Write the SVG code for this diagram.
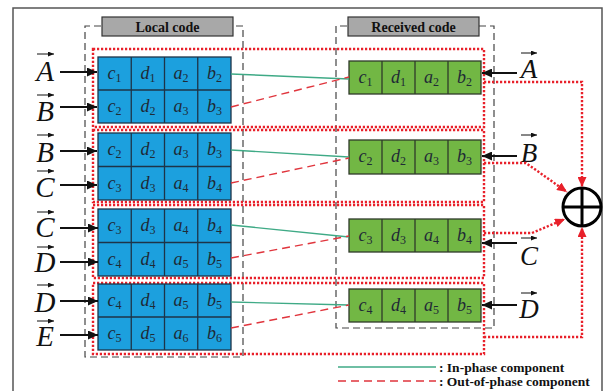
<svg xmlns="http://www.w3.org/2000/svg" width="607" height="391" viewBox="0 0 607 391">
<style>
.frame{fill:none;stroke:#555;stroke-width:1.5}
.dbox{fill:none;stroke:#444;stroke-width:1.2;stroke-dasharray:7 4}
.lab{fill:#a8a8a8;stroke:#333;stroke-width:1.2}
.labt{font-family:'Liberation Serif','Times New Roman',serif;font-weight:bold;font-size:14px;fill:#111;text-anchor:middle}
.rbox{fill:none;stroke:#e8202a;stroke-width:2.4;stroke-dasharray:2.2 1.8}
.blue{fill:#1ca0de;stroke:#1e3448;stroke-width:1.3}
.green{fill:#72b744;stroke:#2f3a2a;stroke-width:1.3}
.ct{font-family:'Liberation Serif','Times New Roman',serif;font-size:18px;fill:#1f2a36;text-anchor:middle}
.v{font-style:italic}
.s{font-size:12px}
.vec{font-family:'Liberation Serif','Times New Roman',serif;font-style:italic;font-size:29px;fill:#111;text-anchor:middle}
.vecr{font-family:'Liberation Serif','Times New Roman',serif;font-style:italic;font-size:27px;fill:#111;text-anchor:middle}
.ov{stroke:#111;stroke-width:1;fill:none;marker-end:url(#oh)}
.arr{stroke:#111;stroke-width:2;fill:none;marker-end:url(#ah)}
.inph{stroke:#3faa86;stroke-width:1.4;fill:none}
.outph{stroke:#e0353d;stroke-width:1.4;fill:none;stroke-dasharray:8 5}
.rdot{stroke:#e8202a;stroke-width:2.4;fill:none;stroke-dasharray:2.2 1.8;marker-end:url(#rh)}
.leg{font-family:'Liberation Serif','Times New Roman',serif;font-weight:bold;font-size:13.5px;fill:#111}
</style>
<defs>
<marker id="ah" markerUnits="userSpaceOnUse" markerWidth="10" markerHeight="9" refX="10" refY="4.5" orient="auto"><path d="M0,0 L10,4.5 L0,9 z" fill="#111"/></marker>
<marker id="oh" markerUnits="userSpaceOnUse" markerWidth="6" markerHeight="5" refX="6" refY="2.5" orient="auto"><path d="M0,0 L6,2.5 L0,5 z" fill="#111"/></marker>
<marker id="rh" markerUnits="userSpaceOnUse" markerWidth="10" markerHeight="9" refX="10" refY="4.5" orient="auto"><path d="M0,0 L10,4.5 L0,9 z" fill="#e8202a"/></marker>
</defs>
<rect width="607" height="391" fill="#fff"/>
<rect class="frame" x="13" y="8" width="589" height="400"/>

<!-- dashed code boxes -->
<g id="local-code">
<path class="dbox" d="M101,26 H85 V357 H243 V26 H233"/>
<rect class="lab" x="102" y="17" width="131" height="19"/>
<text class="labt" x="167.5" y="31.5">Local code</text>
</g>
<g id="received-code">
<path class="dbox" d="M347,26 H336 V328 H494 V26 H479"/>
<rect class="lab" x="348" y="17" width="131" height="19"/>
<text class="labt" x="413.5" y="31.5">Received code</text>
</g>

<!-- red dotted group boxes -->
<g id="groups">
<rect class="rbox" x="93" y="49" width="391" height="78"/>
<rect class="rbox" x="93" y="130" width="391" height="72"/>
<rect class="rbox" x="93" y="205" width="391" height="73"/>
<rect class="rbox" x="93" y="283" width="391" height="71"/>
</g>

<!-- local blocks -->
<g id="local1">
<rect class="blue" x="98" y="57" width="133" height="66"/>
<path class="blue" d="M98,90 H231 M131.25,57 V123 M164.5,57 V123 M197.75,57 V123"/>
<text class="ct" x="114.6" y="79"><tspan class="v">c</tspan><tspan class="s" dy="3">1</tspan></text>
<text class="ct" x="147.9" y="79"><tspan class="v">d</tspan><tspan class="s" dy="3">1</tspan></text>
<text class="ct" x="181.1" y="79"><tspan class="v">a</tspan><tspan class="s" dy="3">2</tspan></text>
<text class="ct" x="214.4" y="79"><tspan class="v">b</tspan><tspan class="s" dy="3">2</tspan></text>
<text class="ct" x="114.6" y="112"><tspan class="v">c</tspan><tspan class="s" dy="3">2</tspan></text>
<text class="ct" x="147.9" y="112"><tspan class="v">d</tspan><tspan class="s" dy="3">2</tspan></text>
<text class="ct" x="181.1" y="112"><tspan class="v">a</tspan><tspan class="s" dy="3">3</tspan></text>
<text class="ct" x="214.4" y="112"><tspan class="v">b</tspan><tspan class="s" dy="3">3</tspan></text>
</g>
<g id="local2">
<rect class="blue" x="98" y="133" width="133" height="67"/>
<path class="blue" d="M98,166.5 H231 M131.25,133 V200 M164.5,133 V200 M197.75,133 V200"/>
<text class="ct" x="114.6" y="155"><tspan class="v">c</tspan><tspan class="s" dy="3">2</tspan></text>
<text class="ct" x="147.9" y="155"><tspan class="v">d</tspan><tspan class="s" dy="3">2</tspan></text>
<text class="ct" x="181.1" y="155"><tspan class="v">a</tspan><tspan class="s" dy="3">3</tspan></text>
<text class="ct" x="214.4" y="155"><tspan class="v">b</tspan><tspan class="s" dy="3">3</tspan></text>
<text class="ct" x="114.6" y="189"><tspan class="v">c</tspan><tspan class="s" dy="3">3</tspan></text>
<text class="ct" x="147.9" y="189"><tspan class="v">d</tspan><tspan class="s" dy="3">3</tspan></text>
<text class="ct" x="181.1" y="189"><tspan class="v">a</tspan><tspan class="s" dy="3">4</tspan></text>
<text class="ct" x="214.4" y="189"><tspan class="v">b</tspan><tspan class="s" dy="3">4</tspan></text>
</g>
<g id="local3">
<rect class="blue" x="98" y="209" width="133" height="67"/>
<path class="blue" d="M98,242.5 H231 M131.25,209 V276 M164.5,209 V276 M197.75,209 V276"/>
<text class="ct" x="114.6" y="231"><tspan class="v">c</tspan><tspan class="s" dy="3">3</tspan></text>
<text class="ct" x="147.9" y="231"><tspan class="v">d</tspan><tspan class="s" dy="3">3</tspan></text>
<text class="ct" x="181.1" y="231"><tspan class="v">a</tspan><tspan class="s" dy="3">4</tspan></text>
<text class="ct" x="214.4" y="231"><tspan class="v">b</tspan><tspan class="s" dy="3">4</tspan></text>
<text class="ct" x="114.6" y="265"><tspan class="v">c</tspan><tspan class="s" dy="3">4</tspan></text>
<text class="ct" x="147.9" y="265"><tspan class="v">d</tspan><tspan class="s" dy="3">4</tspan></text>
<text class="ct" x="181.1" y="265"><tspan class="v">a</tspan><tspan class="s" dy="3">5</tspan></text>
<text class="ct" x="214.4" y="265"><tspan class="v">b</tspan><tspan class="s" dy="3">5</tspan></text>
</g>
<g id="local4">
<rect class="blue" x="98" y="284" width="133" height="66"/>
<path class="blue" d="M98,317 H231 M131.25,284 V350 M164.5,284 V350 M197.75,284 V350"/>
<text class="ct" x="114.6" y="306"><tspan class="v">c</tspan><tspan class="s" dy="3">4</tspan></text>
<text class="ct" x="147.9" y="306"><tspan class="v">d</tspan><tspan class="s" dy="3">4</tspan></text>
<text class="ct" x="181.1" y="306"><tspan class="v">a</tspan><tspan class="s" dy="3">5</tspan></text>
<text class="ct" x="214.4" y="306"><tspan class="v">b</tspan><tspan class="s" dy="3">5</tspan></text>
<text class="ct" x="114.6" y="339"><tspan class="v">c</tspan><tspan class="s" dy="3">5</tspan></text>
<text class="ct" x="147.9" y="339"><tspan class="v">d</tspan><tspan class="s" dy="3">5</tspan></text>
<text class="ct" x="181.1" y="339"><tspan class="v">a</tspan><tspan class="s" dy="3">6</tspan></text>
<text class="ct" x="214.4" y="339"><tspan class="v">b</tspan><tspan class="s" dy="3">6</tspan></text>
</g>

<!-- received blocks -->
<g id="recv1">
<rect class="green" x="349" y="61" width="132" height="33"/>
<path class="green" d="M382,61 V94 M415,61 V94 M448,61 V94"/>
<text class="ct" x="365.5" y="83"><tspan class="v">c</tspan><tspan class="s" dy="3">1</tspan></text>
<text class="ct" x="398.5" y="83"><tspan class="v">d</tspan><tspan class="s" dy="3">1</tspan></text>
<text class="ct" x="431.5" y="83"><tspan class="v">a</tspan><tspan class="s" dy="3">2</tspan></text>
<text class="ct" x="464.5" y="83"><tspan class="v">b</tspan><tspan class="s" dy="3">2</tspan></text>
</g>
<g id="recv2">
<rect class="green" x="349" y="140" width="132" height="34"/>
<path class="green" d="M382,140 V174 M415,140 V174 M448,140 V174"/>
<text class="ct" x="365.5" y="162"><tspan class="v">c</tspan><tspan class="s" dy="3">2</tspan></text>
<text class="ct" x="398.5" y="162"><tspan class="v">d</tspan><tspan class="s" dy="3">2</tspan></text>
<text class="ct" x="431.5" y="162"><tspan class="v">a</tspan><tspan class="s" dy="3">3</tspan></text>
<text class="ct" x="464.5" y="162"><tspan class="v">b</tspan><tspan class="s" dy="3">3</tspan></text>
</g>
<g id="recv3">
<rect class="green" x="349" y="219" width="132" height="33"/>
<path class="green" d="M382,219 V252 M415,219 V252 M448,219 V252"/>
<text class="ct" x="365.5" y="241"><tspan class="v">c</tspan><tspan class="s" dy="3">3</tspan></text>
<text class="ct" x="398.5" y="241"><tspan class="v">d</tspan><tspan class="s" dy="3">3</tspan></text>
<text class="ct" x="431.5" y="241"><tspan class="v">a</tspan><tspan class="s" dy="3">4</tspan></text>
<text class="ct" x="464.5" y="241"><tspan class="v">b</tspan><tspan class="s" dy="3">4</tspan></text>
</g>
<g id="recv4">
<rect class="green" x="349" y="289" width="132" height="33"/>
<path class="green" d="M382,289 V322 M415,289 V322 M448,289 V322"/>
<text class="ct" x="365.5" y="311"><tspan class="v">c</tspan><tspan class="s" dy="3">4</tspan></text>
<text class="ct" x="398.5" y="311"><tspan class="v">d</tspan><tspan class="s" dy="3">4</tspan></text>
<text class="ct" x="431.5" y="311"><tspan class="v">a</tspan><tspan class="s" dy="3">5</tspan></text>
<text class="ct" x="464.5" y="311"><tspan class="v">b</tspan><tspan class="s" dy="3">5</tspan></text>
</g>

<!-- vector labels left -->
<g id="labels-left">
<text class="vec" x="45" y="81">A</text><path class="ov" d="M37,54 H54"/>
<text class="vec" x="45" y="121">B</text><path class="ov" d="M37,95 H54"/>
<text class="vec" x="45" y="162">B</text><path class="ov" d="M37,135 H54"/>
<text class="vec" x="45" y="197">C</text><path class="ov" d="M37,171 H54"/>
<text class="vec" x="45" y="237">C</text><path class="ov" d="M37,212 H54"/>
<text class="vec" x="45" y="272">D</text><path class="ov" d="M37,247 H54"/>
<text class="vec" x="45" y="312">D</text><path class="ov" d="M37,285 H54"/>
<text class="vec" x="45" y="346">E</text><path class="ov" d="M37,321 H54"/>
</g>
<!-- vector labels right -->
<g id="labels-right">
<text class="vecr" x="529" y="78">A</text><path class="ov" d="M521,53 H537"/>
<text class="vecr" x="529" y="162">B</text><path class="ov" d="M521,135 H537"/>
<text class="vecr" x="529" y="265">C</text><path class="ov" d="M521,238 H537"/>
<text class="vecr" x="529" y="318">D</text><path class="ov" d="M521,293 H537"/>
</g>

<!-- sum node -->
<g id="sum">
<circle cx="582" cy="207" r="19" fill="#fff" stroke="#000" stroke-width="3"/>
<path d="M582,188 V226 M563,207 H601" stroke="#000" stroke-width="3"/>
</g>

<g id="connectors">
<path class="arr" d="M60,72 H97"/>
<path class="arr" d="M60,107 H97"/>
<path class="arr" d="M60,151 H97"/>
<path class="arr" d="M60,185 H97"/>
<path class="arr" d="M60,228 H98"/>
<path class="arr" d="M60,262 H98"/>
<path class="arr" d="M60,301 H98"/>
<path class="arr" d="M60,335 H98"/>
<path class="arr" d="M517,73 H482"/>
<path class="arr" d="M517,156 H482"/>
<path class="arr" d="M517,243 H482"/>
<path class="arr" d="M517,305 H482"/>
<path class="inph" d="M231,74 L349,79"/>
<path class="inph" d="M231,150 L349,157"/>
<path class="inph" d="M231,225 L349,237"/>
<path class="inph" d="M231,302 L349,305"/>
<path class="outph" d="M231,107 L349,77"/>
<path class="outph" d="M231,183 L349,158"/>
<path class="outph" d="M231,258 L349,236"/>
<path class="outph" d="M231,328 L349,305"/>
<path class="rdot" d="M484,82 H582 V187"/>
<path class="rdot" d="M484,163 H526 L567,192"/>
<path class="rdot" d="M484,233 H532 L565,219"/>
<path class="rdot" d="M484,337 H582 V227"/>
</g>

<!-- legend -->
<g id="legend">
<path class="inph" d="M338,367 H436"/>
<text class="leg" x="439" y="371.5">: In-phase component</text>
<path class="outph" d="M338,381 H436"/>
<text class="leg" x="439" y="385.5">: Out-of-phase component</text>
</g>
</svg>
